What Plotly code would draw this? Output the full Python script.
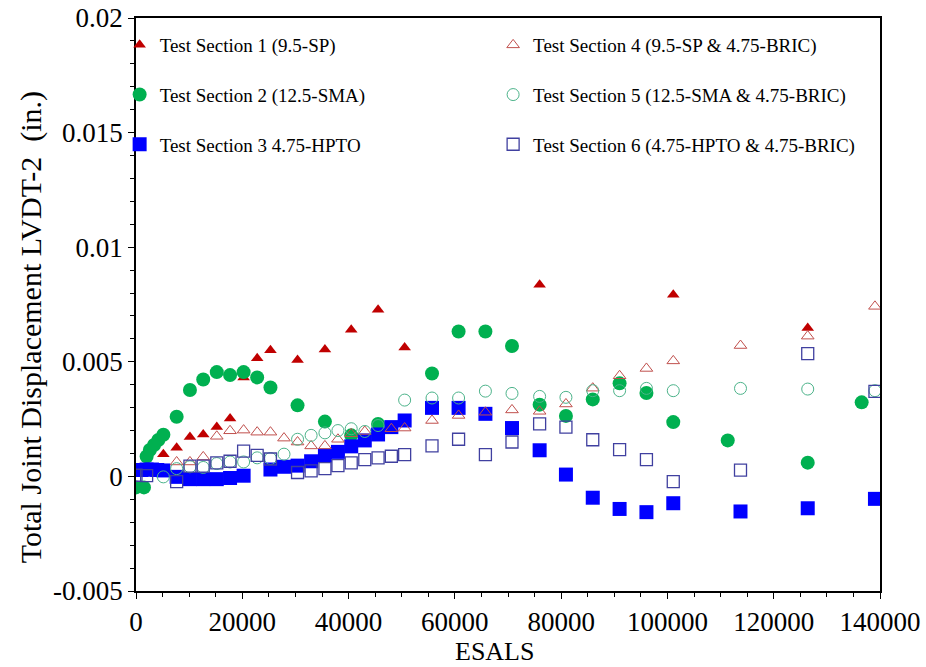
import plotly.graph_objects as go

# ESAL counts at each reading
esals_s1 = [5150, 7650, 10150, 12650, 15200, 17700, 20250, 22800, 25300, 30400, 35550,
            40500, 45550, 50550, 75950, 101100, 126400]
disp_s1 = [0.00097, 0.00125, 0.00172, 0.00183, 0.00215, 0.00253, 0.00432, 0.00515, 0.0055,
           0.00508, 0.00554, 0.0064, 0.00727, 0.00562, 0.00836, 0.00792, 0.00648]

esals_s2 = [0, 1500, 2000, 2600, 3400, 4200, 5150, 7650, 10150, 12650, 15200, 17700, 20250,
            22800, 25300, 30400, 35550, 40500, 45550, 55700, 60700, 65750, 70750, 75950,
            80900, 85950, 91000, 96050, 101100, 111350, 126400, 136550]
disp_s2 = [-0.00048, -0.00048, 0.00087, 0.00115, 0.00137, 0.00159, 0.00182, 0.0026, 0.00377,
           0.00423, 0.00455, 0.00442, 0.00455, 0.00432, 0.00388, 0.0031, 0.00239, 0.00179,
           0.00229, 0.00449, 0.00632, 0.00632, 0.00569, 0.00313, 0.00264, 0.00336, 0.00406,
           0.00364, 0.00237, 0.00157, 0.0006, 0.00323]

esals_s3 = [0, 1000, 2000, 3000, 4000, 5150, 7650, 10150, 12650, 15200, 17700, 20250, 25300,
            27850, 30400, 32950, 35550, 38000, 40500, 43050, 45550, 48050, 50550, 55700,
            60700, 65750, 70750, 75950, 80900, 85950, 91000, 96050, 101100, 113750, 126400,
            139050]
disp_s3 = [0.00028, 0.00028, 0.0003, 0.0003, 0.00028, 0.00026, -0.00002, -0.00012, -0.00012,
           -0.00012, -0.00007, 0.00003, 0.0003, 0.00042, 0.00047, 0.00066, 0.00091, 0.00107,
           0.00131, 0.00157, 0.00183, 0.00215, 0.00244, 0.00299, 0.00299, 0.00273, 0.00211,
           0.00114, 0.00008, -0.00093, -0.00142, -0.00156, -0.00117, -0.00153, -0.00139,
           -0.00098]

esals_s4 = [7650, 10150, 12650, 15200, 17700, 20250, 22800, 25300, 27850, 30400, 32950, 35550,
            38000, 40500, 43050, 48050, 50550, 55700, 60700, 65750, 70750, 75950, 80900,
            85950, 91000, 96050, 101100, 113750, 126400, 139050]
disp_s4 = [0.00063, 0.00063, 0.00085, 0.00175, 0.00199, 0.00202, 0.00193, 0.00193, 0.00167,
           0.0015, 0.00133, 0.00133, 0.00162, 0.00186, 0.00196, 0.00208, 0.00211, 0.00244,
           0.00266, 0.0028, 0.0029, 0.00284, 0.00316, 0.00385, 0.00439, 0.00471, 0.00504,
           0.00571, 0.00612, 0.00742]

esals_s5 = [5150, 7650, 10150, 12650, 15200, 17700, 20250, 22800, 25300, 27850, 30400, 32950,
            35550, 38000, 40500, 43050, 45550, 50550, 55700, 60700, 65750, 70750, 75950,
            80900, 85950, 91000, 96050, 101100, 113750, 126400, 139050]
disp_s5 = [-0.00002, 0.00034, 0.00042, 0.00039, 0.00056, 0.00063, 0.00063, 0.00081, 0.00078,
           0.00097, 0.00162, 0.00179, 0.0019, 0.002, 0.00208, 0.00196, 0.00222, 0.00333,
           0.00342, 0.00342, 0.00372, 0.00362, 0.00349, 0.00345, 0.00374, 0.00374, 0.00384,
           0.00374, 0.00384, 0.00381, 0.00374]

esals_s6 = [0, 2000, 7650, 10150, 12650, 15200, 17700, 20250, 22800, 25300, 30400, 32950,
            35550, 38000, 40500, 43050, 45550, 48050, 50550, 55700, 60700, 65750, 70750,
            75950, 80900, 85950, 91000, 96050, 101100, 113750, 126400, 139050]
disp_s6 = [0.00005, 0.00003, -0.00023, 0.00045, 0.00045, 0.00059, 0.00066, 0.0011, 0.00092,
           0.00076, 0.00017, 0.00024, 0.00034, 0.00047, 0.00059, 0.00073, 0.00081, 0.00088,
           0.00095, 0.00133, 0.00162, 0.00095, 0.0015, 0.00229, 0.00215, 0.0016, 0.00117,
           0.00073, -0.00023, 0.00027, 0.00536, 0.00371]

series_names = [
    "Test Section 1 (9.5-SP)",
    "Test Section 2 (12.5-SMA)",
    "Test Section 3 4.75-HPTO",
    "Test Section 4 (9.5-SP & 4.75-BRIC)",
    "Test Section 5 (12.5-SMA & 4.75-BRIC)",
    "Test Section 6 (4.75-HPTO & 4.75-BRIC)",
]

x_tick_vals = [0, 20000, 40000, 60000, 80000, 100000, 120000, 140000]
x_tick_text = ["0", "20000", "40000", "60000", "80000", "100000", "120000", "140000"]
y_tick_vals = [-0.005, 0, 0.005, 0.01, 0.015, 0.02]
y_tick_text = ["-0.005", "0", "0.005", "0.01", "0.015", "0.02"]

x_title = "ESALS"
y_title = "Total Joint Displacement LVDT-2\u00a0 (in.)"

FONT = "Liberation Serif, Times New Roman, serif"

styles = [
    dict(symbol="triangle-up", size=11, color="#C00000"),
    dict(symbol="circle", size=14, color="#00B050"),
    dict(symbol="square", size=14, color="#0000FF"),
    dict(symbol="triangle-up-open", size=11, color="#C0504D", line=dict(width=1, color="#C0504D")),
    dict(symbol="circle-open", size=12, color="#4CB38A", line=dict(width=1, color="#4CB38A")),
    dict(symbol="square-open", size=12, color="#4040A0", line=dict(width=1.3, color="#4040A0")),
]

data = [(esals_s1, disp_s1), (esals_s2, disp_s2), (esals_s3, disp_s3),
        (esals_s4, disp_s4), (esals_s5, disp_s5), (esals_s6, disp_s6)]

fig = go.Figure()
for i, ((xs, ys), name, mk) in enumerate(zip(data, series_names, styles)):
    fig.add_trace(go.Scatter(
        x=xs, y=ys, mode="markers", name=name, marker=mk,
        legend="legend" if i < 3 else "legend2",
        legendgroup=f"g{i}",
    ))

legend_common = dict(
    font=dict(family=FONT, size=19, color="black"),
    bgcolor="rgba(0,0,0,0)",
    borderwidth=0,
    traceorder="grouped",
    tracegroupgap=22,
    yanchor="top",
    xanchor="left",
)

axis_common = dict(
    automargin=False,
    ticks="outside", ticklen=6, tickwidth=1.2, tickcolor="black",
    showline=True, linecolor="black", linewidth=1.8, mirror=True,
    showgrid=False, zeroline=False,
    tickfont=dict(family=FONT, size=27, color="black"),
)

fig.update_layout(
    width=926, height=667,
    margin=dict(l=136, r=46, t=18, b=76),
    paper_bgcolor="white", plot_bgcolor="white",
    font=dict(family=FONT, size=27, color="black"),
    showlegend=True,
    legend=dict(x=-0.022, y=0.986, **legend_common),
    legend2=dict(x=0.48, y=0.986, **legend_common),
    xaxis=dict(
        range=[0, 140000],
        tickvals=x_tick_vals, ticktext=x_tick_text,
        minor=dict(dtick=5000, ticks="outside", ticklen=4, tickwidth=1, tickcolor="black"),
        **axis_common,
    ),
    yaxis=dict(
        range=[-0.005, 0.02],
        tickvals=y_tick_vals, ticktext=y_tick_text,
        minor=dict(dtick=0.001, ticks="outside", ticklen=4, tickwidth=1, tickcolor="black"),
        **axis_common,
    ),
    annotations=[
        dict(text=x_title, xref="paper", yref="paper", x=0.4825, y=-0.1326,
             xanchor="center", yanchor="bottom", showarrow=False, borderpad=0,
             font=dict(family=FONT, size=26, color="black")),
        dict(text=y_title, xref="paper", yref="paper", x=-0.14, y=0.46,
             xanchor="center", yanchor="middle", showarrow=False, textangle=-90,
             font=dict(family=FONT, size=30, color="black")),
    ],
)

fig.write_html("out.html")
